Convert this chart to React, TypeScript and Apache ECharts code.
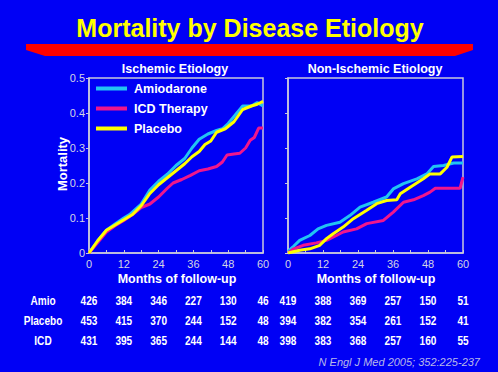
import React, { useEffect, useRef } from "react";
import * as echarts from "echarts";

// ---- Data ----
const riskMonths = [0, 12, 24, 36, 48, 60];
const riskRows = ["Amio", "Placebo", "ICD"];
const amioRiskIsch = [426, 384, 346, 227, 130, 46];
const amioRiskNon = [419, 388, 369, 257, 150, 51];
const placeboRiskIsch = [453, 415, 370, 244, 152, 48];
const placeboRiskNon = [394, 382, 354, 261, 152, 41];
const icdRiskIsch = [431, 395, 365, 244, 144, 48];
const icdRiskNon = [398, 383, 368, 257, 160, 55];

const amioIschM = [0, 3, 6, 9, 12, 14, 18, 21, 24, 27, 30, 33, 35.5, 38, 41, 44, 46, 48, 50, 53, 56, 58, 60];
const amioIschV = [0, 0.035, 0.065, 0.083, 0.1, 0.11, 0.14, 0.18, 0.205, 0.225, 0.25, 0.27, 0.3, 0.325, 0.34, 0.35, 0.355, 0.37, 0.39, 0.42, 0.42, 0.43, 0.42];
const placeboIschM = [0, 3, 6, 9, 12, 15, 18, 21, 24, 27, 30, 33, 35.5, 38, 40, 42, 44, 47, 50, 53, 56, 58, 60];
const placeboIschV = [0, 0.035, 0.065, 0.08, 0.095, 0.11, 0.135, 0.17, 0.195, 0.215, 0.235, 0.255, 0.275, 0.29, 0.31, 0.32, 0.345, 0.355, 0.375, 0.41, 0.42, 0.425, 0.433];
const icdIschM = [0, 3, 6, 9, 12, 15, 18, 21, 24, 27, 29, 32, 35, 38, 41, 44, 46, 47.6, 50, 52, 54, 55.6, 57, 58.5, 60];
const icdIschV = [0, 0.03, 0.06, 0.078, 0.093, 0.11, 0.13, 0.14, 0.16, 0.185, 0.2, 0.21, 0.222, 0.235, 0.24, 0.247, 0.26, 0.28, 0.283, 0.285, 0.3, 0.322, 0.33, 0.357, 0.357];

const amioNonM = [0, 2, 4, 7.5, 10.3, 13.2, 17.8, 21.2, 24.7, 29.2, 33.8, 36.1, 39.6, 44.2, 47.6, 49.9, 53.3, 56.8, 60];
const amioNonV = [0.005, 0.02, 0.036, 0.05, 0.069, 0.079, 0.088, 0.107, 0.131, 0.145, 0.16, 0.183, 0.198, 0.212, 0.226, 0.247, 0.25, 0.257, 0.257];
const placeboNonM = [0, 4, 7.5, 10.9, 13.2, 15.5, 18.9, 22.4, 27, 30.4, 33.8, 37.3, 38.5, 41.9, 46.4, 48.7, 52.2, 54.5, 56.2, 60];
const placeboNonV = [0, 0.008, 0.012, 0.022, 0.041, 0.055, 0.074, 0.098, 0.122, 0.141, 0.15, 0.152, 0.169, 0.188, 0.212, 0.226, 0.226, 0.245, 0.274, 0.276];
const icdNonM = [0, 2, 5.2, 9.7, 13.2, 16.6, 18.9, 23.5, 27, 32.7, 36.1, 39.6, 43, 46.4, 48.7, 50.5, 59, 60];
const icdNonV = [0, 0.012, 0.022, 0.029, 0.036, 0.05, 0.06, 0.069, 0.084, 0.093, 0.117, 0.145, 0.152, 0.164, 0.174, 0.185, 0.185, 0.217];

const yTicks = [0, 0.1, 0.2, 0.3, 0.4, 0.5];

const pair = (m: number[], v: number[]) => m.map((x, i) => [x, v[i]]);

const BG = "#0000f5";
const CYAN = "#22c4f2";
const MAGENTA = "#f0168c";
const YELLOW = "#ffff00";
const FRAME = "#c8c8dc";
const LABEL = "#d4d4e4";
const FONT = "Liberation Sans, Arial, sans-serif";

export default function App() {
  const ref = useRef<HTMLDivElement>(null);
  useEffect(() => {
    if (!ref.current) return;
    const chart = echarts.init(ref.current, null, { renderer: "svg" });
    const grids = [
      { left: 89, top: 78, width: 174, height: 175 },
      { left: 288, top: 78, width: 175, height: 175 },
    ];
    const xAt = (g: number, m: number) => grids[g].left + (m / 60) * grids[g].width;

    const mkX = (gi: number) => ({
      type: "value" as const,
      gridIndex: gi,
      min: 0,
      max: 60,
      interval: 12,
      axisLine: { show: true, lineStyle: { color: FRAME, width: 1.5 } },
      axisTick: { show: true, inside: true, length: 3, lineStyle: { color: FRAME } },
      minorTick: { show: true, splitNumber: 2, length: 3, lineStyle: { color: FRAME } },
      splitLine: { show: false },
      axisLabel: { color: LABEL, fontSize: 11, fontFamily: FONT, margin: 5 },
    });
    const mkY = (gi: number, labels: boolean) => ({
      type: "value" as const,
      gridIndex: gi,
      min: 0,
      max: 0.5,
      interval: 0.1,
      axisLine: { show: true, lineStyle: { color: FRAME, width: 1.5 } },
      axisTick: { show: true, length: 3, lineStyle: { color: FRAME } },
      splitLine: { show: false },
      axisLabel: {
        show: labels,
        color: LABEL,
        fontSize: 11,
        fontFamily: FONT,
        margin: 4,
        formatter: (v: number) => (yTicks.indexOf(v) === 0 ? "0" : v.toFixed(1)),
      },
    });

    const mkSeries = (name: string, color: string, gi: number, data: number[][]) => ({
      name,
      type: "line" as const,
      xAxisIndex: gi,
      yAxisIndex: gi,
      data,
      showSymbol: false,
      symbol: "none",
      lineStyle: { color, width: 3 },
      itemStyle: { color },
      z: 3,
    });

    const graphics: any[] = [
      {
        type: "polygon",
        shape: { points: [[26, 44], [473, 44], [473, 50], [455, 56], [45, 56], [26, 50]] },
        style: { fill: "#ff0000" },
      },
      {
        type: "text",
        x: 250,
        y: 28,
        style: {
          text: "Mortality by Disease Etiology",
          fill: YELLOW,
          font: `bold 25px ${FONT}`,
          textAlign: "center",
          textVerticalAlign: "middle",
          textShadowColor: "#000060",
          textShadowOffsetX: 2,
          textShadowOffsetY: 2,
          textShadowBlur: 0,
        },
      },
      {
        type: "text",
        x: 175,
        y: 69,
        style: { text: "Ischemic Etiology", fill: "#ffffff", font: `bold 12.5px ${FONT}`, textAlign: "center", textVerticalAlign: "middle" },
      },
      {
        type: "text",
        x: 375,
        y: 69,
        style: { text: "Non-Ischemic Etiology", fill: "#ffffff", font: `bold 12.5px ${FONT}`, textAlign: "center", textVerticalAlign: "middle" },
      },
      {
        type: "text",
        x: 62,
        y: 164,
        rotation: Math.PI / 2,
        style: { text: "Mortality", fill: "#ffffff", font: `bold 13px ${FONT}`, textAlign: "center", textVerticalAlign: "middle" },
      },
      {
        type: "text",
        x: 177,
        y: 279,
        style: { text: "Months of follow-up", fill: "#ffffff", font: `bold 12.5px ${FONT}`, textAlign: "center", textVerticalAlign: "middle" },
      },
      {
        type: "text",
        x: 376,
        y: 279,
        style: { text: "Months of follow-up", fill: "#ffffff", font: `bold 12.5px ${FONT}`, textAlign: "center", textVerticalAlign: "middle" },
      },
      {
        type: "text",
        x: 480,
        y: 362,
        style: {
          text: "N Engl J Med 2005; 352:225-237",
          fill: "#b8b8e8",
          font: `italic 11px ${FONT}`,
          textAlign: "right",
          textVerticalAlign: "middle",
        },
      },
    ];

    const rowData = [
      [amioRiskIsch, amioRiskNon],
      [placeboRiskIsch, placeboRiskNon],
      [icdRiskIsch, icdRiskNon],
    ];
    const rowY = [301, 321, 341];
    const narrowText = (text: string, x: number, y: number) => ({
      type: "text",
      x,
      y,
      scaleX: 0.84,
      style: { text, fill: "#ffffff", font: `bold 12px ${FONT}`, textAlign: "center", textVerticalAlign: "middle" },
    });
    riskRows.forEach((label, r) => {
      graphics.push(narrowText(label, 43, rowY[r]));
      [0, 1].forEach((g) => {
        riskMonths.forEach((m, i) => {
          graphics.push(narrowText(String(rowData[r][g][i]), xAt(g, m), rowY[r]));
        });
      });
    });

    chart.setOption({
      animation: false,
      backgroundColor: BG,
      grid: grids.map((g) => ({
        ...g,
        show: true,
        borderColor: FRAME,
        borderWidth: 1.5,
        backgroundColor: "transparent",
      })),
      xAxis: [mkX(0), mkX(1)],
      yAxis: [mkY(0, true), mkY(1, false)],
      legend: {
        data: ["Amiodarone", "ICD Therapy", "Placebo"],
        orient: "vertical",
        left: 94,
        top: 80,
        icon: "rect",
        itemWidth: 31,
        itemHeight: 4,
        itemGap: 7,
        padding: [2, 2, 2, 2],
        textStyle: { color: "#ffffff", fontWeight: "bold", fontSize: 12.5, fontFamily: FONT, padding: [0, 0, 0, 2] },
        selectedMode: false,
      },
      series: [
        mkSeries("Amiodarone", CYAN, 0, pair(amioIschM, amioIschV)),
        mkSeries("ICD Therapy", MAGENTA, 0, pair(icdIschM, icdIschV)),
        mkSeries("Placebo", YELLOW, 0, pair(placeboIschM, placeboIschV)),
        mkSeries("Amiodarone", CYAN, 1, pair(amioNonM, amioNonV)),
        mkSeries("ICD Therapy", MAGENTA, 1, pair(icdNonM, icdNonV)),
        mkSeries("Placebo", YELLOW, 1, pair(placeboNonM, placeboNonV)),
      ],
      graphic: graphics,
    });
    return () => chart.dispose();
  }, []);
  return <div ref={ref} style={{ position: "fixed", left: 0, top: 0, width: 498, height: 372 }} />;
}
